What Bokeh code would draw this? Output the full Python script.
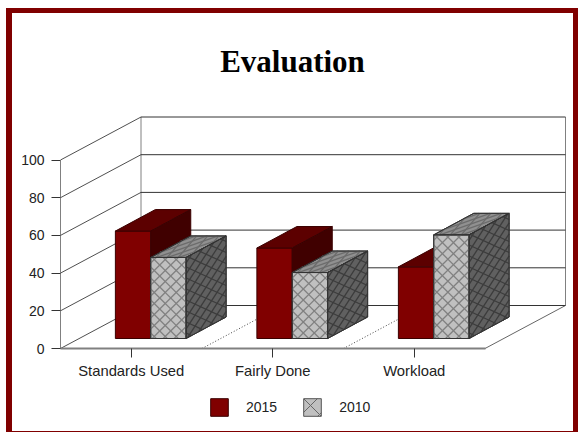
from bokeh.core.properties import value
from bokeh.embed import file_html
from bokeh.resources import INLINE
from bokeh.plotting import figure
from bokeh.models import FixedTicker, Legend, LegendItem, Range1d

chart_title = "Evaluation"
categories = ["Standards Used", "Fairly Done", "Workload"]
series_2015 = [57, 48, 38]
series_2010 = [43, 35, 55]
y_ticks = [0, 20, 40, 60, 80, 100]
legend_names = ["2015", "2010"]

# Pixel scale of the value and category axes
PX_PER_CAT = 141.5
PX_PER_VAL = 1.885
# Oblique projection of the chart's depth, in pixels
DEPTH_X = 80.5
DEPTH_Y = 43.0
dx = DEPTH_X / PX_PER_CAT
dy = DEPTH_Y / PX_PER_VAL

# The heavy frame is a CSS border on the plot element
OUT_LEFT, OUT_TOP = 6, 8
BORDER_L, BORDER_T, BORDER_R, BORDER_B = 6, 5, 5, 1
# Page position of the origin of the axes
ORIGIN_X, ORIGIN_Y = 60, 348

inner_left = OUT_LEFT + BORDER_L
inner_top = OUT_TOP + BORDER_T
inner_w = 578 - inner_left - BORDER_R
inner_h = 432 - inner_top - BORDER_B

p = figure(width=inner_w, height=inner_h, frame_width=inner_w, frame_height=inner_h,
           output_backend="svg", toolbar_location=None, min_border=0,
           x_range=Range1d((inner_left - ORIGIN_X) / PX_PER_CAT,
                           (inner_left + inner_w - ORIGIN_X) / PX_PER_CAT),
           y_range=Range1d((ORIGIN_Y - inner_top - inner_h) / PX_PER_VAL,
                           (ORIGIN_Y - inner_top) / PX_PER_VAL),
           background_fill_color="white", border_fill_color="white")
p.styles = {
    "position": "absolute", "left": f"{OUT_LEFT}px", "top": f"{OUT_TOP}px",
    "box-sizing": "content-box",
    "border-style": "solid", "border-color": "#800000",
    "border-width": f"{BORDER_T}px {BORDER_R}px {BORDER_B}px {BORDER_L}px",
}
p.outline_line_color = None
p.grid.visible = False

# Value axis
p.yaxis.fixed_location = 0
p.yaxis.ticker = FixedTicker(ticks=y_ticks)
p.yaxis.bounds = (0, 100)
p.yaxis.axis_line_color = "#808080"
p.yaxis.major_tick_line_color = "#333333"
p.yaxis.major_tick_out = 9
p.yaxis.major_tick_in = 0
p.yaxis.minor_tick_line_color = None
p.yaxis.major_label_text_font = "Liberation Sans"
p.yaxis.major_label_text_font_size = "14px"
p.yaxis.major_label_text_color = "#222222"
p.yaxis.major_label_standoff = 7

# Category axis
centres = [i + 0.5 for i in range(len(categories))]
p.xaxis.fixed_location = 0
p.xaxis.ticker = FixedTicker(ticks=centres)
p.xaxis.major_label_overrides = {c: n for c, n in zip(centres, categories)}
p.xaxis.bounds = (0, len(categories))
p.xaxis.axis_line_color = "#808080"
p.xaxis.axis_line_width = 2
p.xaxis.major_tick_line_color = "#333333"
p.xaxis.major_tick_out = 9
p.xaxis.major_tick_in = 0
p.xaxis.minor_tick_line_color = None
p.xaxis.major_label_text_font = "Liberation Sans"
p.xaxis.major_label_text_font_size = "14.8px"
p.xaxis.major_label_text_color = "#222222"
p.xaxis.major_label_standoff = 5

p.text(x=[(292 - ORIGIN_X) / PX_PER_CAT], y=[(ORIGIN_Y - 61) / PX_PER_VAL], text=[chart_title],
       text_font=value("Liberation Serif"), text_font_style="bold", text_font_size="31px",
       text_color="black", text_align="center", text_baseline="middle")

n = len(categories)
# Walls and floor
p.line([dx, dx], [dy, 100 + dy], line_color="#808080")
p.line([n + dx, n + dx], [dy, 100 + dy], line_color="#808080")
p.line([n, n + dx], [0, dy], line_color="#666666")
for v in y_ticks:
    p.line([0, dx], [v, v + dy], line_color="#222222", line_width=0.8)
    p.line([dx, n + dx], [v + dy, v + dy], line_color="#333333")
for i in range(1, n):
    p.line([i, i + dx], [0, dy], line_color="#444444", line_dash="1 2")

# Placement of the bars inside each category slot
Z_X = 19.5 / PX_PER_CAT
Z_Y = 10.0 / PX_PER_VAL
BAR_W = 0.25
BAR_DX = 40.0 / PX_PER_CAT
BAR_DY = 21.5 / PX_PER_VAL
HATCH = 11.0


def cross_lines(w, h):
    """Diagonal cross lines of a w x h face, in its own pixel coordinates."""
    out = []
    c = HATCH / 2
    while c < w + h:
        u0, u1 = max(0, c - h), min(w, c)
        if u1 > u0:
            out.append([(u0, c - u0), (u1, c - u1)])
        c += HATCH
    c = -h + HATCH / 2
    while c < w:
        u0, u1 = max(0, c), min(w, h + c)
        if u1 > u0:
            out.append([(u0, u0 - c), (u1, u1 - c)])
        c += HATCH
    return out


def draw_face(xs, ys, fill, line):
    p.patch(xs, ys, fill_color=fill, line_color=line, line_width=1)


def draw_hatch(segments, color, to_data):
    xs, ys = [], []
    for seg in segments:
        pts = [to_data(u, v) for u, v in seg]
        xs.append([a for a, _ in pts])
        ys.append([b for _, b in pts])
    p.multi_line(xs, ys, line_color=color, line_width=1.3)


def draw_bar(x0, val, front, top, side, edge, hatch=None):
    x1 = x0 + BAR_W
    b = Z_Y
    t = Z_Y + val
    wpx = BAR_W * PX_PER_CAT
    hpx = val * PX_PER_VAL
    dxpx = BAR_DX * PX_PER_CAT
    dypx = BAR_DY * PX_PER_VAL

    draw_face([x0, x1, x1, x0], [b, b, t, t], front, edge)
    draw_face([x0, x1, x1 + BAR_DX, x0 + BAR_DX], [t, t, t + BAR_DY, t + BAR_DY], top, edge)
    draw_face([x1, x1 + BAR_DX, x1 + BAR_DX, x1], [b, b + BAR_DY, t + BAR_DY, t], side, edge)
    if hatch is None:
        return
    draw_hatch(cross_lines(wpx, hpx), hatch[0],
               lambda u, v: (x0 + u / PX_PER_CAT, b + v / PX_PER_VAL))
    draw_hatch(cross_lines(wpx, dypx), hatch[1],
               lambda u, v: (x0 + (u + v * dxpx / dypx) / PX_PER_CAT, t + v / PX_PER_VAL))
    draw_hatch(cross_lines(dxpx, hpx), hatch[2],
               lambda u, v: (x1 + u / PX_PER_CAT, b + (v + u * dypx / dxpx) / PX_PER_VAL))
    # Hatch lines sit under the face outlines
    draw_face([x0, x1, x1, x0], [b, b, t, t], None, edge)
    draw_face([x0, x1, x1 + BAR_DX, x0 + BAR_DX], [t, t, t + BAR_DY, t + BAR_DY], None, edge)
    draw_face([x1, x1 + BAR_DX, x1 + BAR_DX, x1], [b, b + BAR_DY, t + BAR_DY, t], None, edge)


for i in range(n):
    left = i + Z_X + 0.25
    draw_bar(left, series_2015[i], "#800000", "#5c0000", "#400000", "#3a0000")
    draw_bar(left + BAR_W, series_2010[i], "#c0c0c0", "#909090", "#606060", "#333333",
             hatch=("#808080", "#6c6c6c", "#3c3c3c"))

# Legend swatches come from marks parked outside the visible range
swatch_a = p.vbar(x=[-5], bottom=[-300], top=[-299], width=0.1,
                  fill_color="#800000", line_color="#3a0000")
swatch_b = p.vbar(x=[-5], bottom=[-300], top=[-299], width=0.1,
                  fill_color="#c0c0c0", line_color="#555555",
                  hatch_pattern="diagonal_cross", hatch_color="#666666", hatch_scale=18,
                  hatch_weight=1)
legend = Legend(items=[LegendItem(label=legend_names[0], renderers=[swatch_a]),
                       LegendItem(label=legend_names[1], renderers=[swatch_b])],
                orientation="horizontal", location=(196, 13),
                glyph_width=22, glyph_height=22, label_standoff=16, spacing=24,
                padding=0, margin=0, border_line_color=None, background_fill_color=None,
                label_text_font="Liberation Sans", label_text_font_size="14px",
                label_text_color="#222222")
p.add_layout(legend, "center")

open("out.html", "w").write(file_html(p, INLINE))
